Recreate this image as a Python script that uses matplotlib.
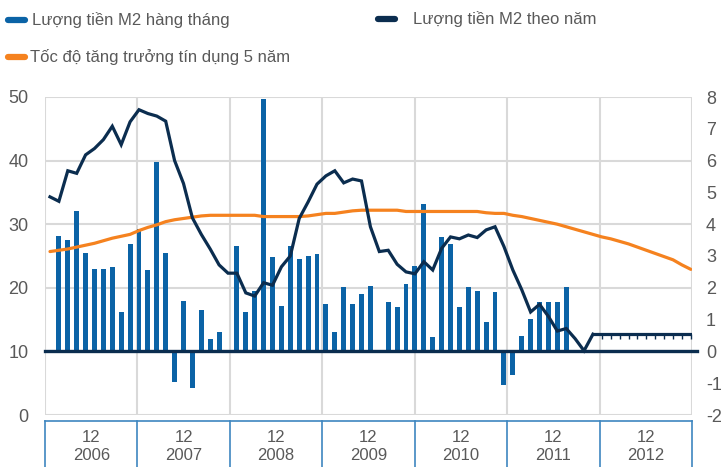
import matplotlib
matplotlib.use("Agg")
import matplotlib.pyplot as plt
from matplotlib.lines import Line2D
import numpy as np

# ---------------- data ----------------
years = ["2006", "2007", "2008", "2009", "2010", "2011", "2012"]
year_month = "12"

# monthly M2 growth (%), right axis; 0 = no bar
m2_monthly = [0, 3.64, 3.49, 4.42, 3.11, 2.60, 2.60, 2.64, 1.23, 3.39, 3.85, 2.55,
              5.95, 3.11, -0.95, 1.60, -1.16, 1.29, 0.40, 0.61, 0, 3.32, 1.23, 1.91,
              7.95, 2.97, 1.44, 3.32, 2.92, 3.01, 3.06, 1.49, 0.61, 2.02, 1.49, 1.81,
              2.07, 0, 1.55, 1.39, 2.12, 2.70, 4.64, 0.45, 3.60, 3.39, 1.39, 2.02,
              1.91, 0.92, 1.86, -1.06, -0.74, 0.50, 1.02, 1.55, 1.55, 1.55, 2.02, 0,
              0, 0, 0, 0, 0, 0, 0, 0, 0, 0, 0, 0, 0]

# annual M2 growth (%), left axis
m2_annual = [34.3, 33.6, 38.4, 38.0, 40.9, 41.9, 43.3, 45.4, 42.5, 46.1, 48.0, 47.4,
             47.0, 46.2, 40.0, 36.4, 31.0, 28.4, 26.1, 23.6, 22.3, 22.3, 19.2, 18.7,
             20.8, 20.4, 23.3, 25.0, 30.9, 33.5, 36.3, 37.6, 38.4, 36.5, 37.1, 36.8,
             29.6, 25.7, 25.9, 23.7, 22.5, 22.2, 24.1, 22.8, 26.2, 28.0, 27.7, 28.3,
             27.9, 29.1, 29.6, 26.5, 22.8, 19.7, 16.2, 17.4, 15.5, 13.2, 13.6, 12.0,
             10.1, 12.7, 12.7, 12.7, 12.7, 12.7, 12.7, 12.7, 12.7, 12.7, 12.7, 12.7, 12.7]

# 5-year credit growth (%), left axis
credit_5y = [25.7, 25.9, 26.1, 26.4, 26.7, 27.0, 27.4, 27.8, 28.1, 28.4, 29.0, 29.5,
             29.9, 30.4, 30.7, 30.9, 31.1, 31.3, 31.4, 31.4, 31.4, 31.4, 31.4, 31.4,
             31.2, 31.2, 31.2, 31.2, 31.2, 31.3, 31.5, 31.7, 31.7, 31.9, 32.1, 32.2,
             32.2, 32.2, 32.2, 32.2, 32.0, 32.0, 32.0, 32.0, 32.0, 32.0, 32.0, 32.0,
             32.0, 31.8, 31.7, 31.7, 31.4, 31.2, 30.9, 30.6, 30.3, 30.0, 29.6, 29.2,
             28.8, 28.4, 28.0, 27.7, 27.3, 26.9, 26.4, 25.9, 25.4, 24.9, 24.4, 23.6, 22.9]

legend_labels = ["Lượng tiền M2 hàng tháng", "Lượng tiền M2 theo năm",
                 "Tốc độ tăng trưởng tín dụng 5 năm"]

left_ticks = [0, 10, 20, 30, 40, 50]
right_ticks = [-2, -1, 0, 1, 2, 3, 4, 5, 6, 7, 8]

# ---------------- style ----------------
C_BAR = "#0B63A6"
C_NAVY = "#0B2D4F"
C_ORANGE = "#F5821F"
C_GRID = "#D9D9D9"
C_TEXT = "#595959"
C_BOX = "#3E86C0"
NARROW = ["Liberation Sans Narrow", "Liberation Sans", "DejaVu Sans"]
plt.rcParams['font.family'] = ["Liberation Sans", "DejaVu Sans"]

W, H = 725, 467
fig = plt.figure(figsize=(W / 100, H / 100), dpi=100)
L, R, B, T = 45, 692, 415, 97
ax = fig.add_axes([L / W, (H - B) / H, (R - L) / W, (B - T) / H])
ax2 = ax.twinx()
ax.yaxis.tick_right()
ax2.yaxis.tick_left()

n = len(m2_monthly)
x = np.arange(n)
xlim = (-0.56, 72.13)
bounds = np.linspace(xlim[0], xlim[1], len(years) + 1)

# bars (right scale) on bottom axes
vals = np.array(m2_monthly)
mask = vals != 0
ax.bar(x[mask], vals[mask], width=0.55, color=C_BAR, zorder=3)
ax.set_ylim(-2, 8)
ax.set_xlim(*xlim)
for g in np.arange(-2, 9, 2):
    ax.axhline(g, color=C_GRID, lw=1.5, zorder=1)
for b in bounds:
    ax.axvline(b, color=C_GRID, lw=1.5, zorder=1)
ax.axhline(0, xmin=0, xmax=(697 - L) / (R - L), color=C_NAVY, lw=2.4, zorder=4, clip_on=False)
ax.set_yticks(right_ticks)
ax.set_yticklabels([str(t) for t in right_ticks])
ax.tick_params(axis='y', length=0, pad=10, labelsize=13, labelcolor=C_TEXT)
ax.set_xticks([])
for s in ax.spines.values():
    s.set_visible(False)

# lines (left scale) on top axes
ax2.plot(x, credit_5y, color=C_ORANGE, lw=2.3, zorder=5, solid_capstyle='round')
ax2.plot(x[:62], m2_annual[:62], color=C_NAVY, lw=2.3, zorder=6, solid_joinstyle='miter')
ax2.plot(x[61:], m2_annual[61:], color=C_NAVY, lw=2.3, zorder=6,
         marker=3, markersize=3.5, markeredgewidth=1.0, markevery=list(range(1, n - 61)))
ax2.set_ylim(0, 50)
ax2.set_xlim(*xlim)
ax2.set_yticks(left_ticks)
ax2.set_yticklabels([str(t) for t in left_ticks])
ax2.tick_params(axis='y', length=0, pad=12, labelsize=13, labelcolor=C_TEXT)
for s in ax2.spines.values():
    s.set_visible(False)

# bottom category boxes
ytop = 421
box_y0 = 1 - ytop / H
fig.add_artist(Line2D([L / W, R / W], [box_y0, box_y0], color=C_BOX, lw=1.2))
for i, b in enumerate(bounds):
    px = L + (b - xlim[0]) / (xlim[1] - xlim[0]) * (R - L)
    fig.add_artist(Line2D([px / W, px / W], [0, box_y0], color=C_BOX, lw=1.2))
for i, yr in enumerate(years):
    c = (bounds[i] + bounds[i + 1]) / 2
    px = L + (c - xlim[0]) / (xlim[1] - xlim[0]) * (R - L)
    fig.text(px / W, 1 - 437 / H, year_month, ha='center', va='center',
             fontsize=12, color=C_TEXT, family=NARROW)
    fig.text(px / W, 1 - 455 / H, yr, ha='center', va='center',
             fontsize=12, color=C_TEXT, family=NARROW)

# legend
def leg(px0, py, color, label, tx):
    fig.add_artist(Line2D([px0 / W, (px0 + 17) / W], [1 - py / H, 1 - py / H],
                          color=color, lw=4.5, solid_capstyle='round'))
    fig.text(tx / W, 1 - py / H, label, ha='left', va='center', fontsize=12,
             color=C_TEXT, family=NARROW)

leg(8, 20, C_BAR, legend_labels[0], 32)
leg(378, 19, C_NAVY, legend_labels[1], 413)
leg(8, 57, C_ORANGE, legend_labels[2], 30)

fig.savefig("out.png", dpi=100)
